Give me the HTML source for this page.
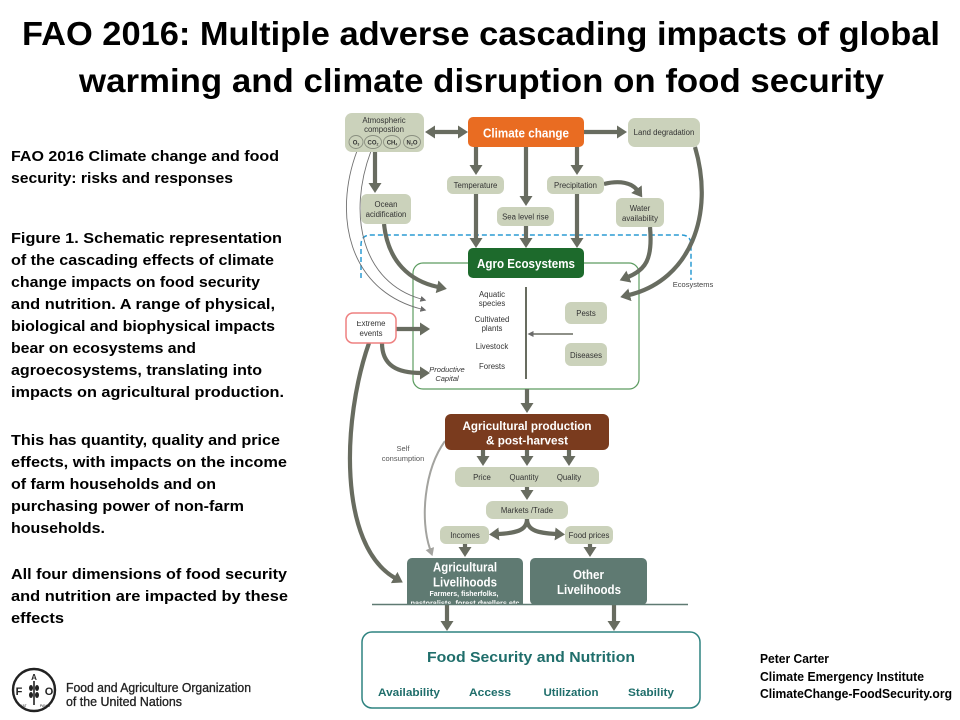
<!DOCTYPE html>
<html><head><meta charset="utf-8"><style>
html,body{margin:0;padding:0;background:#fff;}
svg{display:block;}
.c{font-family:"Liberation Sans",Arial,sans-serif;}
</style></head><body>
<svg width="960" height="720" viewBox="0 0 960 720" xmlns="http://www.w3.org/2000/svg" class="c">
<defs>
<marker id="ah" markerUnits="userSpaceOnUse" markerWidth="10" markerHeight="13" viewBox="0 0 10 13" refX="1" refY="6.5" orient="auto"><path d="M0,0 L10,6.5 L0,13z" fill="#686c60"/></marker>
<marker id="ahs" markerUnits="userSpaceOnUse" markerWidth="10" markerHeight="13" viewBox="0 0 10 13" refX="1" refY="6.5" orient="auto-start-reverse"><path d="M0,0 L10,6.5 L0,13z" fill="#686c60"/></marker>
<marker id="at" markerUnits="userSpaceOnUse" markerWidth="6" markerHeight="6" viewBox="0 0 6 6" refX="0.5" refY="3" orient="auto"><path d="M0,0 L6,3 L0,6z" fill="#6a6a6a"/></marker>
<marker id="ag" markerUnits="userSpaceOnUse" markerWidth="8" markerHeight="9" viewBox="0 0 8 9" refX="0.5" refY="4.5" orient="auto"><path d="M0,0 L8,4.5 L0,9z" fill="#a3a39f"/></marker>
<clipPath id="clipExt"><rect x="340" y="321" width="70" height="30"/></clipPath>
<clipPath id="clipLiv"><rect x="400" y="550" width="130" height="55"/></clipPath>
</defs>

<!-- Title -->
<g font-weight="bold" fill="#000" font-size="33">
<text x="22" y="45" textLength="918" lengthAdjust="spacingAndGlyphs">FAO 2016: Multiple adverse cascading impacts of global</text>
<text x="79" y="92" textLength="805" lengthAdjust="spacingAndGlyphs">warming and climate disruption on food security</text>
</g>

<!-- Left text -->
<g font-weight="bold" fill="#000" font-size="14.5">
<text x="11" y="161" textLength="268" lengthAdjust="spacingAndGlyphs">FAO 2016 Climate change and food</text>
<text x="11" y="183" textLength="222" lengthAdjust="spacingAndGlyphs">security: risks and responses</text>
<text x="11" y="243" textLength="271" lengthAdjust="spacingAndGlyphs">Figure 1. Schematic representation</text>
<text x="11" y="265" textLength="263" lengthAdjust="spacingAndGlyphs">of the cascading effects of climate</text>
<text x="11" y="287" textLength="249" lengthAdjust="spacingAndGlyphs">change impacts on food security</text>
<text x="11" y="309" textLength="264" lengthAdjust="spacingAndGlyphs">and nutrition. A range of physical,</text>
<text x="11" y="331" textLength="264" lengthAdjust="spacingAndGlyphs">biological and biophysical impacts</text>
<text x="11" y="353" textLength="185" lengthAdjust="spacingAndGlyphs">bear on ecosystems and</text>
<text x="11" y="375" textLength="251" lengthAdjust="spacingAndGlyphs">agroecosystems, translating into</text>
<text x="11" y="397" textLength="273" lengthAdjust="spacingAndGlyphs">impacts on agricultural production.</text>
<text x="11" y="445" textLength="269" lengthAdjust="spacingAndGlyphs">This has quantity, quality and price</text>
<text x="11" y="467" textLength="276" lengthAdjust="spacingAndGlyphs">effects, with impacts on the income</text>
<text x="11" y="489" textLength="205" lengthAdjust="spacingAndGlyphs">of farm households and on</text>
<text x="11" y="511" textLength="233" lengthAdjust="spacingAndGlyphs">purchasing power of non-farm</text>
<text x="11" y="533" textLength="94" lengthAdjust="spacingAndGlyphs">households.</text>
<text x="11" y="579" textLength="276" lengthAdjust="spacingAndGlyphs">All four dimensions of food security</text>
<text x="11" y="601" textLength="277" lengthAdjust="spacingAndGlyphs">and nutrition are impacted by these</text>
<text x="11" y="623" textLength="53" lengthAdjust="spacingAndGlyphs">effects</text>
</g>

<!-- Right bottom credits -->
<g font-weight="bold" fill="#000" font-size="12.5">
<text x="760" y="663" textLength="69" lengthAdjust="spacingAndGlyphs">Peter Carter</text>
<text x="760" y="681" textLength="164" lengthAdjust="spacingAndGlyphs">Climate  Emergency Institute</text>
<text x="760" y="698" textLength="192" lengthAdjust="spacingAndGlyphs">ClimateChange-FoodSecurity.org</text>
</g>

<!-- FAO logo -->
<g>
<circle cx="34" cy="690" r="21" fill="#fff" stroke="#222" stroke-width="2.4"/>
<text x="19" y="695" font-size="11" font-weight="bold" fill="#222" text-anchor="middle">F</text>
<text x="49" y="695" font-size="11" font-weight="bold" fill="#222" text-anchor="middle">O</text>
<text x="34" y="680" font-size="8" font-weight="bold" fill="#222" text-anchor="middle">A</text>
<line x1="34" y1="681" x2="34" y2="705" stroke="#222" stroke-width="1.6"/>
<ellipse cx="31" cy="688" rx="2" ry="3" fill="#222"/>
<ellipse cx="37" cy="688" rx="2" ry="3" fill="#222"/>
<ellipse cx="31" cy="695" rx="2" ry="3" fill="#222"/>
<ellipse cx="37" cy="695" rx="2" ry="3" fill="#222"/>
<text x="23" y="707" font-size="3.5" fill="#222" text-anchor="middle">FIAT</text>
<text x="45" y="707" font-size="3.5" fill="#222" text-anchor="middle">PANIS</text>
<text x="66" y="692" font-size="12.5" fill="#222" stroke="#222" stroke-width="0.3" textLength="185" lengthAdjust="spacingAndGlyphs">Food and Agriculture Organization</text>
<text x="66" y="706" font-size="12.5" fill="#222" stroke="#222" stroke-width="0.3" textLength="116" lengthAdjust="spacingAndGlyphs">of the United Nations</text>
</g>

<!-- ===== Diagram ===== -->
<!-- dashed ecosystems outline -->
<path d="M361,278 L361,245 Q361,235 371,235 L681,235 Q691,235 691,245 L691,280" fill="none" stroke="#2b9bd3" stroke-width="1.5" stroke-dasharray="5,3"/>
<text x="693" y="287" font-size="7.5" fill="#444" text-anchor="middle">Ecosystems</text>

<!-- agro green outline -->
<rect x="413" y="263" width="226" height="126" rx="10" fill="#fff" stroke="#5d9c61" stroke-width="1.2"/>

<!-- thin curves from atmosphere -->
<g fill="none" stroke="#707070" stroke-width="0.9">
<path d="M357,151 C333,215 348,290 421,309" marker-end="url(#at)"/>
<path d="M371,151 C347,215 362,282 421,299" marker-end="url(#at)"/>
</g>

<!-- thick connectors -->
<g fill="none" stroke="#686c60" stroke-width="4.2">
<line x1="434" y1="132" x2="459" y2="132" marker-start="url(#ahs)" marker-end="url(#ah)"/>
<line x1="584" y1="132" x2="618" y2="132" marker-end="url(#ah)"/>
<line x1="476" y1="147" x2="476" y2="166" marker-end="url(#ah)"/>
<line x1="526" y1="147" x2="526" y2="197" marker-end="url(#ah)"/>
<line x1="577" y1="147" x2="577" y2="166" marker-end="url(#ah)"/>
<line x1="476" y1="194" x2="476" y2="239" marker-end="url(#ah)"/>
<line x1="526" y1="226" x2="526" y2="239" marker-end="url(#ah)"/>
<line x1="577" y1="194" x2="577" y2="239" marker-end="url(#ah)"/>
<line x1="375" y1="152" x2="375" y2="184" marker-end="url(#ah)"/>
<path d="M604,184 C620,180 632,183 637,190" marker-end="url(#ah)"/>
<path d="M384,224 C388,262 410,281 438,287" marker-end="url(#ah)"/>
<path d="M650,227 C653,260 645,270 628,277" marker-end="url(#ah)"/>
<path d="M695,147 C715,215 690,280 629,295" marker-end="url(#ah)"/>
<line x1="396" y1="329" x2="421" y2="329" marker-end="url(#ah)"/>
<path d="M382,343 C382,366 398,373 421,373" marker-end="url(#ah)"/>
<path d="M369,343 C342,420 338,545 395,578" marker-end="url(#ah)"/>
<line x1="527" y1="389" x2="527" y2="404" marker-end="url(#ah)"/>
<line x1="483" y1="450" x2="483" y2="457" marker-end="url(#ah)"/>
<line x1="527" y1="450" x2="527" y2="457" marker-end="url(#ah)"/>
<line x1="569" y1="450" x2="569" y2="457" marker-end="url(#ah)"/>
<line x1="527" y1="487" x2="527" y2="491" marker-end="url(#ah)"/>
<path d="M527,519 C527,531 515,533 498,534" marker-end="url(#ah)"/>
<path d="M527,519 C527,531 539,533 556,534" marker-end="url(#ah)"/>
<line x1="465" y1="544" x2="465" y2="548" marker-end="url(#ah)"/>
<line x1="590" y1="544" x2="590" y2="548" marker-end="url(#ah)"/>
<line x1="447" y1="605" x2="447" y2="622" marker-end="url(#ah)"/>
<line x1="614" y1="605" x2="614" y2="622" marker-end="url(#ah)"/>
</g>

<!-- self consumption -->
<path d="M445,441 C424,470 420,520 430,549" fill="none" stroke="#a3a39f" stroke-width="2" marker-end="url(#ag)"/>
<text x="403" y="451" font-size="7.5" fill="#555" text-anchor="middle">Self</text>
<text x="403" y="461" font-size="7.5" fill="#555" text-anchor="middle">consumption</text>

<!-- inner agro lines -->
<line x1="526" y1="287" x2="526" y2="379" stroke="#686c60" stroke-width="2"/>
<line x1="573" y1="334" x2="533" y2="334" stroke="#686c60" stroke-width="1.5" marker-end="url(#at)"/>

<!-- sage boxes -->
<g fill="#cbd2bb">
<rect x="345" y="113" width="79" height="39" rx="7"/>
<rect x="628" y="118" width="72" height="29" rx="7"/>
<rect x="447" y="176" width="57" height="18" rx="6"/>
<rect x="497" y="207" width="57" height="19" rx="6"/>
<rect x="547" y="176" width="57" height="18" rx="6"/>
<rect x="616" y="198" width="48" height="29" rx="6"/>
<rect x="361" y="194" width="50" height="30" rx="6"/>
<rect x="565" y="302" width="42" height="22" rx="6"/>
<rect x="565" y="343" width="42" height="23" rx="6"/>
<rect x="455" y="467" width="144" height="20" rx="7"/>
<rect x="486" y="501" width="82" height="18" rx="7"/>
<rect x="440" y="526" width="49" height="18" rx="6"/>
<rect x="565" y="526" width="48" height="18" rx="6"/>
</g>

<!-- atm circles -->
<g fill="#cbd2bb" stroke="#8a8f80" stroke-width="0.9">
<ellipse cx="356" cy="142" rx="7" ry="6.5"/>
<ellipse cx="373" cy="142" rx="8.5" ry="6.5"/>
<ellipse cx="392" cy="142" rx="8.5" ry="6.5"/>
<ellipse cx="412" cy="142" rx="8.5" ry="6.5"/>
</g>
<g font-size="6" font-weight="bold" fill="#333" text-anchor="middle">
<text x="356" y="144.5">O<tspan font-size="3.5" dy="1">3</tspan></text>
<text x="373" y="144.5">CO<tspan font-size="3.5" dy="1">2</tspan></text>
<text x="392" y="144.5">CH<tspan font-size="3.5" dy="1">4</tspan></text>
<text x="412" y="144.5">N<tspan font-size="3.5" dy="1">2</tspan><tspan dy="-1">O</tspan></text>
</g>

<!-- small labels -->
<g font-size="7.8" fill="#333" text-anchor="middle">
<text x="384" y="123">Atmospheric</text>
<text x="384" y="132">compostion</text>
<text x="664" y="135">Land degradation</text>
<text x="475.5" y="188">Temperature</text>
<text x="525.5" y="219.5">Sea level rise</text>
<text x="575.5" y="188">Precipitation</text>
<text x="640" y="211">Water</text>
<text x="640" y="221">availability</text>
<text x="386" y="207">Ocean</text>
<text x="386" y="217">acidification</text>
<text x="492" y="297">Aquatic</text>
<text x="492" y="306">species</text>
<text x="492" y="322">Cultivated</text>
<text x="492" y="331">plants</text>
<text x="492" y="349">Livestock</text>
<text x="492" y="369">Forests</text>
<text x="586" y="316">Pests</text>
<text x="586" y="358">Diseases</text>
<text x="482" y="480">Price</text>
<text x="524" y="480">Quantity</text>
<text x="569" y="480">Quality</text>
<text x="527" y="513">Markets /Trade</text>
<text x="465" y="538">Incomes</text>
<text x="589" y="538">Food prices</text>
</g>
<g font-size="7.5" font-style="italic" fill="#333" text-anchor="middle">
<text x="447" y="372">Productive</text>
<text x="447" y="381">Capital</text>
</g>

<!-- extreme events -->
<rect x="346" y="313" width="50" height="30" rx="7" fill="#fff" stroke="#ee8080" stroke-width="1.5"/>
<text x="371" y="326" font-size="7.8" fill="#333" text-anchor="middle" clip-path="url(#clipExt)">Extreme</text>
<text x="371" y="336" font-size="7.8" fill="#333" text-anchor="middle">events</text>

<!-- coloured main boxes -->
<rect x="468" y="117" width="116" height="30" rx="5" fill="#e96c22"/>
<text x="526" y="137.5" font-size="12.5" font-weight="bold" fill="#fff" text-anchor="middle" textLength="86" lengthAdjust="spacingAndGlyphs">Climate change</text>

<rect x="468" y="248" width="116" height="30" rx="5" fill="#1d6a2c"/>
<text x="526" y="268" font-size="13" font-weight="bold" fill="#fff" text-anchor="middle" textLength="98" lengthAdjust="spacingAndGlyphs">Agro Ecosystems</text>

<rect x="445" y="414" width="164" height="36" rx="6" fill="#7a3b1e"/>
<text x="527" y="430" font-size="12" font-weight="bold" fill="#fff" text-anchor="middle" textLength="129" lengthAdjust="spacingAndGlyphs">Agricultural production</text>
<text x="527" y="444.5" font-size="12" font-weight="bold" fill="#fff" text-anchor="middle" textLength="82" lengthAdjust="spacingAndGlyphs">&amp; post-harvest</text>

<g clip-path="url(#clipLiv)">
<rect x="407" y="558" width="116" height="52" rx="5" fill="#5f7a72"/>
<text x="465" y="571.5" font-size="12.5" font-weight="bold" fill="#fff" text-anchor="middle" textLength="64" lengthAdjust="spacingAndGlyphs">Agricultural</text>
<text x="465" y="586.5" font-size="12.5" font-weight="bold" fill="#fff" text-anchor="middle" textLength="64" lengthAdjust="spacingAndGlyphs">Livelihoods</text>
<text x="464" y="596" font-size="7" font-weight="bold" fill="#fff" text-anchor="middle" textLength="69" lengthAdjust="spacingAndGlyphs">Farmers, fisherfolks,</text>
<text x="466" y="605.5" font-size="7" font-weight="bold" fill="#fff" text-anchor="middle" textLength="111" lengthAdjust="spacingAndGlyphs">pastoralists, forest dwellers etc.</text>
</g>
<rect x="530" y="558" width="117" height="47" rx="5" fill="#5f7a72"/>
<text x="588.5" y="579" font-size="12.5" font-weight="bold" fill="#fff" text-anchor="middle" textLength="31" lengthAdjust="spacingAndGlyphs">Other</text>
<text x="589" y="594" font-size="12.5" font-weight="bold" fill="#fff" text-anchor="middle" textLength="64" lengthAdjust="spacingAndGlyphs">Livelihoods</text>

<line x1="372" y1="604.5" x2="688" y2="604.5" stroke="#5f7a72" stroke-width="1.5"/>

<!-- food security -->
<rect x="362" y="632" width="338" height="76" rx="10" fill="#fff" stroke="#2e8380" stroke-width="1.5"/>
<text x="531" y="662" font-size="14.5" font-weight="bold" fill="#1f6e6b" text-anchor="middle" textLength="208" lengthAdjust="spacingAndGlyphs">Food Security and Nutrition</text>
<g font-size="11" font-weight="bold" fill="#1f6e6b" text-anchor="middle">
<text x="409" y="696" textLength="62" lengthAdjust="spacingAndGlyphs">Availability</text>
<text x="490" y="696" textLength="42" lengthAdjust="spacingAndGlyphs">Access</text>
<text x="571" y="696" textLength="55" lengthAdjust="spacingAndGlyphs">Utilization</text>
<text x="651" y="696" textLength="46" lengthAdjust="spacingAndGlyphs">Stability</text>
</g>
</svg>
</body></html>
